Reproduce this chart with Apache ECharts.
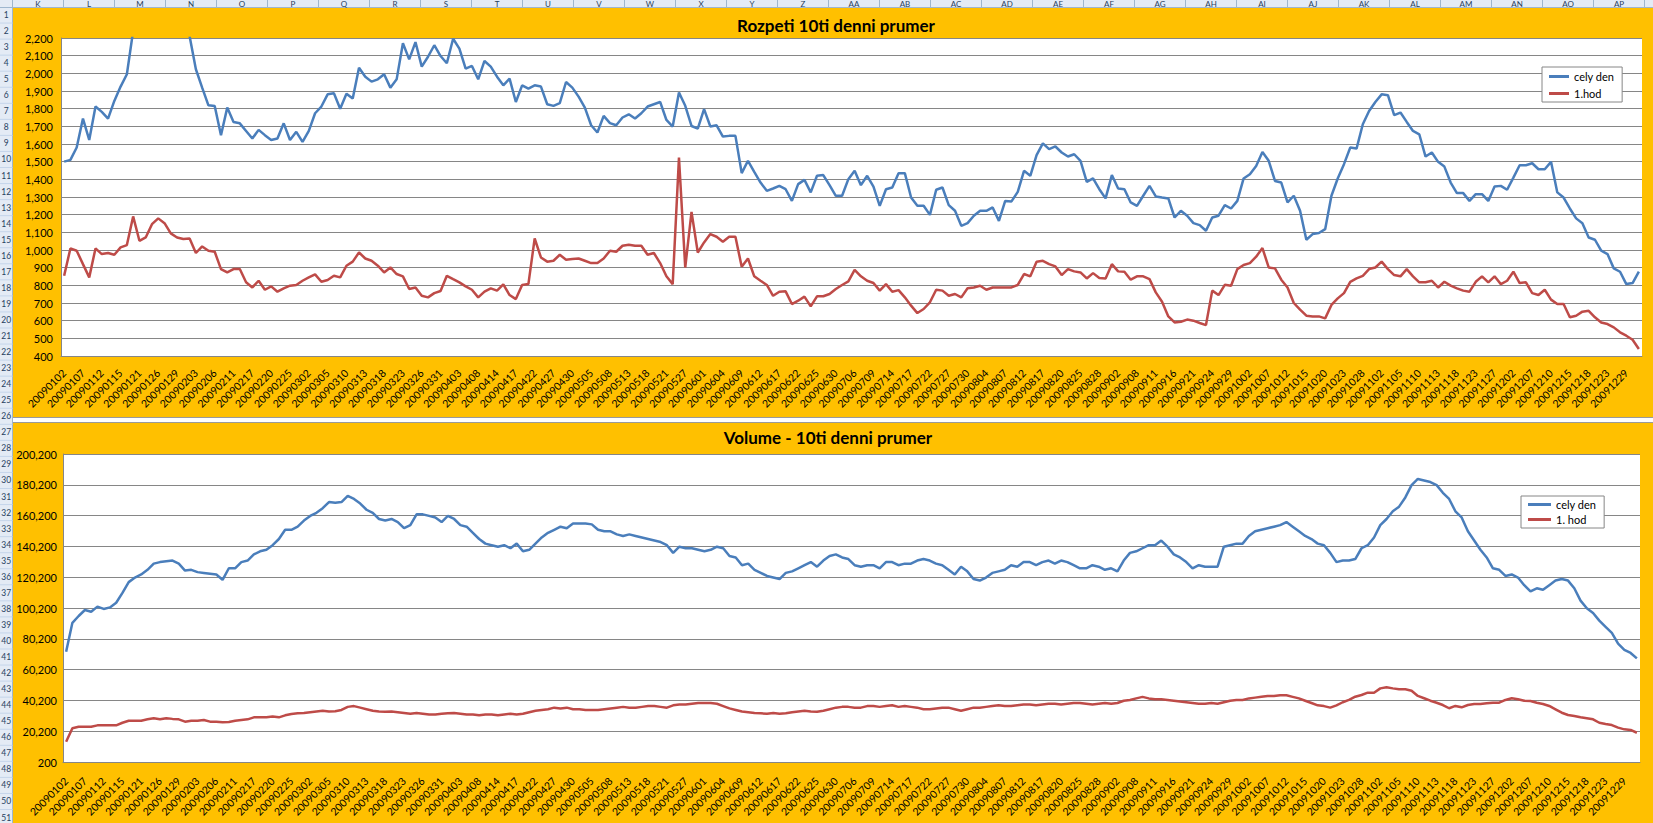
<!DOCTYPE html>
<html><head><meta charset="utf-8">
<script src="https://cdn.jsdelivr.net/npm/echarts@6/dist/echarts.min.js"></script>
<style>html,body{margin:0;padding:0;background:#fff;overflow:hidden}#c{width:1653px;height:823px}</style>
</head><body><div id="c"></div>
<script>
// ---- DATA ----
// trading days of 2009, per month
const daysJan = [2,5,6,7,8,9,12,13,14,15,16,20,21,22,23,26,27,28,29,30];
const daysFeb = [2,3,4,5,6,9,10,11,12,13,17,18,19,20,23,24,25,26,27];
const daysMar = [2,3,4,5,6,9,10,11,12,13,16,17,18,19,20,23,24,25,26,27,30,31];
const daysApr = [1,2,3,6,7,8,9,13,14,15,16,17,20,21,22,23,24,27,28,29,30];
const daysMay = [1,4,5,6,7,8,11,12,13,14,15,18,19,20,21,22,26,27,28,29];
const daysJun = [1,2,3,4,5,8,9,10,11,12,15,16,17,18,19,22,23,24,25,26,29,30];
const daysJul = [1,2,6,7,8,9,10,13,14,15,16,17,20,21,22,23,24,27,28,29,30,31];
const daysAug = [3,4,5,6,7,10,11,12,13,14,17,18,19,20,21,24,25,26,27,28,31];
const daysSep = [1,2,3,4,8,9,10,11,14,15,16,17,18,21,22,23,24,25,28,29,30];
const daysOct = [1,2,5,6,7,8,9,12,13,14,15,16,19,20,21,22,23,26,27,28,29,30];
const daysNov = [2,3,4,5,6,9,10,11,12,13,16,17,18,19,20,23,24,25,27,30];
const daysDec = [1,2,3,4,7,8,9,10,11,14,15,16,17,18,21,22,23,24,28,29,30,31];

const title1 = 'Rozpeti 10ti denni prumer';
const title2 = 'Volume - 10ti denni prumer';
const names1 = ['cely den', '1.hod'];
const names2 = ['cely den', '1. hod'];

// Chart 1: range, whole day
const rangeDay = [
1500,1510,1580,1744,1623,1812,1782,1744,1844,1925,
1995,2240,2380,2480,2550,2580,2560,2500,2420,2320,
2210,2023,1919,1819,1815,1650,1806,1725,1717,1674,
1631,1680,1650,1623,1631,1717,1623,1669,1612,1674,
1774,1812,1881,1887,1800,1885,1857,2032,1981,1953,
1966,1995,1919,1966,2170,2079,2177,2038,2094,2159,
2098,2057,2196,2140,2027,2042,1966,2070,2038,1981,
1932,1970,1838,1932,1914,1932,1925,1825,1816,1831,
1951,1919,1868,1806,1706,1665,1759,1718,1706,1750,
1768,1744,1774,1812,1825,1838,1736,1699,1891,1816,
1702,1687,1797,1699,1706,1642,1646,1646,1435,1505,
1442,1382,1335,1348,1363,1344,1278,1373,1397,1326,
1420,1424,1367,1307,1307,1401,1448,1367,1420,1359,
1250,1344,1354,1435,1435,1297,1250,1250,1199,1341,
1354,1254,1222,1137,1152,1194,1222,1222,1241,1165,
1278,1275,1329,1448,1420,1537,1604,1571,1586,1552,
1529,1542,1505,1386,1405,1344,1292,1424,1348,1344,
1269,1250,1307,1363,1303,1297,1292,1184,1222,1194,
1152,1141,1109,1184,1194,1254,1235,1278,1405,1429,
1476,1555,1505,1391,1382,1269,1307,1222,1058,1090,
1096,1118,1307,1405,1486,1580,1574,1712,1787,1838,
1881,1876,1763,1778,1725,1674,1655,1529,1552,1499,
1472,1382,1322,1322,1278,1316,1316,1278,1359,1363,
1341,1410,1480,1480,1491,1457,1457,1499,1326,1297,
1235,1179,1152,1071,1058,996,977,896,877,807,
813,877
];
// Chart 1: range, first hour
const rangeHour = [
854,1009,996,920,845,1009,977,983,973,1015,
1028,1190,1052,1071,1146,1179,1152,1094,1071,1062,
1065,983,1020,996,990,892,873,892,892,817,
788,826,775,794,764,783,798,802,826,845,
862,820,830,854,845,911,934,986,952,939,
911,873,901,864,851,779,788,741,732,756,
768,854,835,817,794,775,732,764,783,770,
805,745,722,802,807,1065,958,934,939,973,
945,949,952,939,926,926,952,996,990,1024,
1030,1024,1024,973,983,926,851,807,1523,901,
1216,986,1043,1090,1075,1047,1075,1075,905,952,
851,826,802,741,764,766,694,713,736,681,
738,738,751,779,802,822,888,851,826,813,
770,807,764,773,732,685,643,666,704,775,
770,741,751,732,783,788,798,775,788,788,
788,788,802,864,851,934,939,920,907,858,
892,879,873,839,869,841,839,920,879,877,
832,851,851,835,760,707,624,590,594,606,
600,587,575,770,745,803,798,892,915,926,
962,1011,901,896,832,788,700,662,628,624,
624,613,689,726,756,820,839,854,892,901,
934,892,858,851,892,851,817,817,826,788,
820,798,783,770,764,820,851,817,851,807,
826,877,813,817,756,745,775,719,694,694,
619,628,651,656,619,590,581,562,534,515,
492,440
];
// Chart 2: volume, whole day
const volDay = [
71800,90600,95000,98900,97800,101100,99600,100600,103600,110000,
117000,120000,122000,125000,129000,130000,130500,131000,129000,124500,
125000,123500,123000,122500,122000,118500,126000,126000,130000,131000,
135000,137000,138000,141000,145000,151000,151000,153000,157000,160000,
162000,165000,169000,168500,169000,173000,171000,168000,164000,162000,
158000,157000,158000,156000,152000,154000,161000,161000,160000,159000,
156000,160000,158000,154000,153000,149000,145000,142000,141000,140000,
141000,139000,142000,137000,138000,142000,146000,149000,151000,153000,
152000,155000,155000,155000,154500,151000,150000,150000,148000,147000,
148000,147000,146000,145000,144000,143000,141000,136000,140000,139000,
139000,138000,137000,138000,140000,139000,134000,133000,128000,129000,
125000,123000,121000,120000,119000,123000,124000,126000,128000,130000,
127000,131000,134000,135000,133000,132000,128000,127000,128000,128000,
126000,130000,130000,128000,129000,129000,131000,132000,131000,129000,
128000,125000,122000,127000,124000,119000,118000,120000,123000,124000,
125000,128000,127000,130000,130000,128000,130000,131000,129000,131000,
130000,128000,126000,126000,128000,127000,125000,126000,124000,131000,
136000,137000,139000,141000,141000,144000,140000,135000,133000,130000,
126000,128000,127000,127000,127000,140000,141000,142000,142000,147000,
150000,151000,152000,153000,154000,156000,153000,150000,147000,145000,
142000,141000,136000,130000,131000,131000,132000,139000,141000,146000,
154000,158000,163000,166000,172000,180000,184000,183000,182000,180000,
175000,171000,163000,159000,150000,144000,138000,133000,126000,125000,
121000,122000,120000,115000,111000,113000,112000,115000,118000,119000,
118000,113000,105000,100000,97000,92000,88000,84000,77000,73000,
71000,67500
];
// Chart 2: volume, first hour
const volHour = [
13400,22100,23100,23100,23100,24000,24000,24000,24000,25700,
27000,27000,27000,27900,28600,27900,28600,28200,27900,26400,
27000,27000,27500,26400,26400,26000,26200,27000,27500,27900,
29200,29200,29200,29700,29200,30500,31400,31800,32000,32500,
33000,33500,33000,33200,34000,36000,36500,35500,34500,33500,
33000,32800,33000,32500,32000,31500,32000,31500,31000,31000,
31500,31800,32000,31500,31000,31000,30500,31000,31000,30500,
31000,31500,31000,31500,32500,33500,34000,34500,35500,35000,
35500,34500,34500,34000,34000,34000,34500,35000,35500,36000,
35500,35500,36000,36500,36500,36000,35500,37000,37500,37500,
38000,38500,38500,38500,38000,36500,35000,34000,33000,32500,
32000,31800,31500,32000,31500,31800,32500,33000,33500,33000,
32800,33500,34500,35500,36000,36000,35500,35500,36500,36500,
36000,36500,37000,36000,36500,36000,35500,34500,34500,35000,
35500,35500,34500,33500,34500,35500,35500,36000,36500,37000,
36500,36500,37000,37500,37500,37000,37500,38000,38000,37500,
38000,38500,38500,38000,37500,38000,38500,38000,38500,40000,
40500,41500,42500,41500,41000,41000,40500,40000,39500,39000,
38500,38000,38000,38500,38000,39000,40000,40500,40500,41500,
42000,42500,43000,43000,43500,43500,42500,41500,40000,38500,
37000,36500,35500,37000,39000,40500,42600,43700,45200,45200,
48000,48700,48000,47400,47400,46500,43100,41600,40000,38700,
37200,35100,36600,35700,37200,37900,37900,38300,38700,38700,
40500,41600,40900,40000,39800,38700,37900,36600,34400,32200,
30700,30100,29200,28600,27900,25700,24900,24200,22500,21400,
21000,19200
];
const yTicks2 = [200,20200,40200,60200,80200,100200,120200,140200,160200,180200,200200];
const sheetCols = ['K','L','M','N','O','P','Q','R','S','T','U','V','W','X','Y','Z','AA','AB','AC','AD','AE','AF','AG','AH','AI','AJ','AK','AL','AM','AN','AO','AP'];

// ---- BUILD ----
const pad = n => (n < 10 ? '0' : '') + n;
const months = [daysJan,daysFeb,daysMar,daysApr,daysMay,daysJun,daysJul,daysAug,daysSep,daysOct,daysNov,daysDec];
const dates = [];
months.forEach((ds, m) => ds.forEach(d => dates.push('2009' + pad(m + 1) + pad(d))));

const FONT = 'Lato';
const BLUE = '#4A7EBB', RED = '#BE4B48', GRID = '#868686', ORANGE = '#FFC000';
const fmt = v => Math.round(v).toLocaleString('en-US');

const g = [];
// orange chart areas
g.push({type:'rect', z:-20, shape:{x:12.5,y:7.5,width:1641,height:409.5}, style:{fill:ORANGE}});
g.push({type:'rect', z:-20, shape:{x:12.5,y:423,width:1641,height:400}, style:{fill:ORANGE}});
g.push({type:'line', z:-19, shape:{x1:12.5,y1:417.5,x2:1653,y2:417.5}, style:{stroke:'#9a9a9a',lineWidth:1}});
g.push({type:'line', z:-19, shape:{x1:12.5,y1:422.5,x2:1653,y2:422.5}, style:{stroke:'#9a9a9a',lineWidth:1}});
// column header
g.push({type:'rect', z:-15, shape:{x:0,y:0,width:1653,height:7.5}, style:{fill:'#e4ebf5'}});
g.push({type:'line', z:-14, shape:{x1:0,y1:7.5,x2:1653,y2:7.5}, style:{stroke:'#9eb6ce',lineWidth:1}});
for (let k = 0; k <= sheetCols.length; k++) {
  const x = 12.5 + 51 * k;
  g.push({type:'line', z:-14, shape:{x1:x,y1:0,x2:x,y2:7.5}, style:{stroke:'#9eb6ce',lineWidth:1}});
}
sheetCols.forEach((c, k) => {
  g.push({type:'text', z:-13, x:38 + 51 * k, y:4, style:{text:c, fill:'#27415f', font:'8px ' + FONT, textAlign:'center', textVerticalAlign:'middle'}});
});
// row header
g.push({type:'rect', z:-15, shape:{x:0,y:7.5,width:12.5,height:816}, style:{fill:'#e4ebf5'}});
g.push({type:'line', z:-14, shape:{x1:12.5,y1:7.5,x2:12.5,y2:823}, style:{stroke:'#9eb6ce',lineWidth:1}});
for (let r = 1; r <= 51; r++) {
  const yb = 7 + 16.05 * r;
  g.push({type:'line', z:-14, shape:{x1:0,y1:yb,x2:12.5,y2:yb}, style:{stroke:'#c5d5ea',lineWidth:1}});
  g.push({type:'text', z:-13, x:6.3, y:15 + 16.05 * (r - 1), style:{text:String(r), fill:'#27415f', font:'8.5px ' + FONT, textAlign:'center', textVerticalAlign:'middle'}});
}
// titles
g.push({type:'text', z:5, x:836, y:25, style:{text:title1, fill:'#000', font:'bold 17px ' + FONT, textAlign:'center', textVerticalAlign:'middle'}});
g.push({type:'text', z:5, x:828, y:437, style:{text:title2, fill:'#000', font:'bold 17px ' + FONT, textAlign:'center', textVerticalAlign:'middle'}});

const xAxisBase = (gi, margin) => ({
  type:'category', gridIndex:gi, data:dates, boundaryGap:true,
  axisTick:{show:false},
  axisLine:{lineStyle:{color:GRID, width:1}},
  axisLabel:{interval:2, rotate:45, fontSize:10.5, color:'#000', fontFamily:FONT, margin:margin}
});

const option = {
  animation:false,
  textStyle:{fontFamily:FONT},
  graphic:{elements:g},
  grid:[
    {left:61, top:38, width:1581, height:318, show:true, backgroundColor:'#fff', borderWidth:0},
    {left:63, top:454, width:1577, height:308, show:true, backgroundColor:'#fff', borderWidth:0}
  ],
  xAxis:[xAxisBase(0, 15), xAxisBase(1, 17)],
  yAxis:[
    {type:'value', gridIndex:0, min:400, max:2200, interval:100,
     axisLine:{show:true, lineStyle:{color:GRID}}, axisTick:{show:false},
     axisLabel:{formatter:fmt, fontSize:11, color:'#000', margin:8},
     splitLine:{lineStyle:{color:GRID, width:1}}},
    {type:'value', gridIndex:1, min:200, max:200200,
     axisLine:{show:true, lineStyle:{color:GRID}},
     axisTick:{show:false, customValues:yTicks2},
     axisLabel:{formatter:fmt, fontSize:11, color:'#000', margin:6, customValues:yTicks2},
     splitLine:{lineStyle:{color:GRID, width:1}}}
  ],
  legend:[
    {data:names1, orient:'vertical', left:1542, top:67, padding:[4,8,3,7], itemGap:6,
     itemWidth:20, itemHeight:3, icon:'rect', backgroundColor:'#fff', borderColor:GRID, borderWidth:1,
     textStyle:{fontSize:11, color:'#000', fontFamily:FONT}},
    {data:names2, orient:'vertical', left:1521, top:496, padding:[3,8,3,7], itemGap:4,
     itemWidth:23, itemHeight:3, icon:'rect', backgroundColor:'#fff', borderColor:GRID, borderWidth:1,
     textStyle:{fontSize:11, color:'#000', fontFamily:FONT}}
  ],
  series:[
    {name:names1[0], type:'line', xAxisIndex:0, yAxisIndex:0, data:rangeDay, symbol:'none', clip:true, lineStyle:{color:BLUE, width:2.5}, itemStyle:{color:BLUE}},
    {name:names1[1], type:'line', xAxisIndex:0, yAxisIndex:0, data:rangeHour, symbol:'none', clip:true, lineStyle:{color:RED, width:2.5}, itemStyle:{color:RED}},
    {name:names2[0], type:'line', xAxisIndex:1, yAxisIndex:1, data:volDay, symbol:'none', clip:true, lineStyle:{color:BLUE, width:2.5}, itemStyle:{color:BLUE}},
    {name:names2[1], type:'line', xAxisIndex:1, yAxisIndex:1, data:volHour, symbol:'none', clip:true, lineStyle:{color:RED, width:2.5}, itemStyle:{color:RED}}
  ]
};
const chart = echarts.init(document.getElementById('c'), null, {renderer:'svg'});
chart.setOption(option);
</script>
</body></html>
